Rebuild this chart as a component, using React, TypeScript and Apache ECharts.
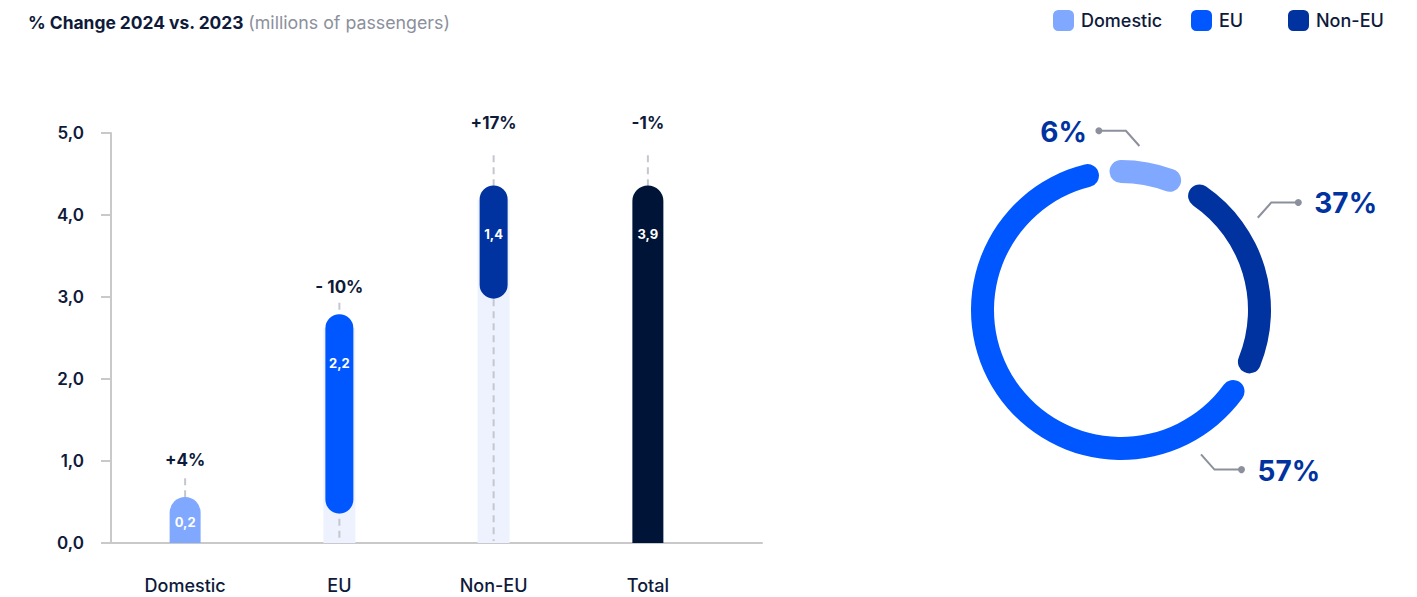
import React, { useEffect, useRef } from 'react';
import * as echarts from 'echarts';

// ---- Bar chart data ----
const CATEGORIES = ['Domestic', 'EU', 'Non-EU', 'Total'];
const BAR_START = [0, 0.36, 2.98, 0];
const BAR_END = [0.56, 2.79, 4.36, 4.36];
const VALUE_LABELS = ['0,2', '2,2', '1,4', '3,9'];
const CHANGE_LABELS = ['+4%', '- 10%', '+17%', '-1%'];
const CHANGE_LABEL_AT = [1.01, 3.12, 5.12, 5.12];
const GUIDE_TOP = [0.79, 2.93, 4.73, 4.73];
const Y_MIN = 0;
const Y_MAX = 5;
const Y_STEP = 1;

// ---- Donut data (arc shares as drawn, labels as printed) ----
const SEGMENTS = ['Domestic', 'Non-EU', 'EU'];
const SEGMENT_SHARE = [9.6, 25.4, 65.0];
const SEGMENT_LABELS = ['6%', '37%', '57%'];
const LEGEND_ITEMS = ['Domestic', 'EU', 'Non-EU'];

// ---- styles ----
const FONT = 'Inter, "Noto Sans", sans-serif';
const TEXT = '#0e1a3a';
const GREY = '#8b909c';
const AXIS = '#c9c9c9';
const TRACK = '#edf2fe';
const COLORS: Record<string, string> = {
  Domestic: '#80a8ff',
  EU: '#0057ff',
  'Non-EU': '#0033a0',
  Total: '#001438',
};
const BAR_WIDTH = [31, 28, 28, 31];
const TRACK_WIDTH = 32;
const DONUT_CX = 1121;
const DONUT_CY = 310;
const CALLOUT_ANGLE = [6.4, 56, 151];
const CALLOUT_SIDE = [-1, 1, 1];
const CALLOUT_R = 165;

const fmt = (v: number) => v.toFixed(1).replace('.', ',');

export default function App() {
  const ref = useRef<HTMLDivElement>(null);

  useEffect(() => {
    if (!ref.current) return;
    const chart = echarts.init(ref.current, undefined, { renderer: 'svg' });

    const callouts: any[] = [];
    SEGMENT_LABELS.forEach((t, i) => {
      const a = (CALLOUT_ANGLE[i] * Math.PI) / 180;
      const side = CALLOUT_SIDE[i];
      const sx = DONUT_CX + CALLOUT_R * Math.sin(a);
      const sy = DONUT_CY - CALLOUT_R * Math.cos(a);
      const vy = Math.cos(a) > 0 ? -1 : 1;
      const ex = sx + side * 13.5;
      const ey = sy + vy * 15.3;
      const dx = ex + side * 27;
      callouts.push(
        {
          type: 'polyline',
          silent: true,
          shape: { points: [[sx, sy], [ex, ey], [dx, ey]] },
          style: { stroke: GREY, lineWidth: 2, fill: null },
        },
        { type: 'circle', silent: true, shape: { cx: dx, cy: ey, r: 3.5 }, style: { fill: GREY } },
        {
          type: 'text',
          silent: true,
          x: dx + side * (side < 0 ? 12 : 16),
          y: ey + 1,
          style: {
            text: t,
            align: side < 0 ? 'right' : 'left',
            verticalAlign: 'middle',
            fill: '#0033a0',
            font: `700 28px ${FONT}`,
          },
        }
      );
    });

    const legendLefts = [1053, 1191, 1288];

    const option: any = {
      animation: false,
      textStyle: { fontFamily: FONT },
      title: {
        left: 28,
        top: 13,
        padding: 0,
        text: '{a|% Change 2024 vs. 2023} {b|(millions of passengers)}',
        textStyle: {
          rich: {
            a: { fontFamily: FONT, fontSize: 17.4, fontWeight: 700, color: TEXT },
            b: { fontFamily: FONT, fontSize: 17.8, fontWeight: 400, color: GREY },
          },
        },
      },
      legend: LEGEND_ITEMS.map((n, i) => ({
        data: [n],
        left: legendLefts[i],
        top: 10,
        padding: 0,
        icon: 'roundRect',
        itemWidth: 21,
        itemHeight: 21,
        selectedMode: false,
        textStyle: { fontFamily: FONT, fontSize: 18, fontWeight: 500, color: TEXT, padding: [0, 0, 0, 2] },
      })),
      grid: [
        { left: 108, width: 617, top: 133, bottom: 54 },
        { left: 111, right: 655, top: 133, bottom: 54 },
      ],
      xAxis: [
        {
          type: 'category',
          gridIndex: 0,
          data: CATEGORIES,
          axisLine: { show: false },
          axisTick: { show: false },
          axisLabel: { margin: 33, fontFamily: FONT, fontSize: 18, fontWeight: 500, color: TEXT },
        },
        {
          type: 'category',
          gridIndex: 1,
          data: [''],
          axisLine: { show: true, lineStyle: { color: AXIS, width: 2 } },
          axisTick: { show: false },
          axisLabel: { show: false },
        },
      ],
      yAxis: [
        { type: 'value', gridIndex: 0, min: Y_MIN, max: Y_MAX, interval: Y_STEP, show: false },
        {
          type: 'value',
          gridIndex: 1,
          min: Y_MIN,
          max: Y_MAX,
          interval: Y_STEP,
          axisLine: { show: true, lineStyle: { color: AXIS, width: 2 } },
          axisTick: { show: true, length: 10, lineStyle: { color: AXIS, width: 2 } },
          splitLine: { show: false },
          axisLabel: {
            margin: 27,
            formatter: (v: number) => fmt(v),
            fontFamily: FONT,
            fontSize: 17,
            fontWeight: 600,
            color: TEXT,
          },
        },
      ],
      series: [
        {
          type: 'custom',
          name: 'passengers',
          xAxisIndex: 0,
          yAxisIndex: 0,
          clip: false,
          silent: true,
          encode: { x: 0, y: [1, 2] },
          data: CATEGORIES.map((c, i) => [i, BAR_START[i], BAR_END[i], GUIDE_TOP[i], CHANGE_LABEL_AT[i]]),
          renderItem: (params: any, api: any) => {
            const i = api.value(0);
            const start = api.value(1);
            const end = api.value(2);
            const guide = api.value(3);
            const labelAt = api.value(4);
            const w = BAR_WIDTH[i];
            const r = w / 2;
            const [cx, yTop] = api.coord([i, end]);
            const yBot = api.coord([i, start])[1];
            const y0 = api.coord([i, 0])[1];
            const yGuide = api.coord([i, guide])[1];
            const yLabel = api.coord([i, labelAt])[1];
            const children: any[] = [];
            if (start > 0) {
              children.push({
                type: 'rect',
                shape: { x: cx - TRACK_WIDTH / 2, y: yTop + r, width: TRACK_WIDTH, height: y0 - yTop - r },
                style: { fill: TRACK },
              });
            }
            children.push({
              type: 'line',
              shape: { x1: cx, y1: yGuide, x2: cx, y2: y0 - 2 },
              style: { stroke: '#c4c7ce', lineWidth: 2, lineDash: [7, 5] },
            });
            children.push({
              type: 'rect',
              shape: {
                x: cx - r,
                y: yTop,
                width: w,
                height: yBot - yTop,
                r: start > 0 ? r : [r, r, 0, 0],
              },
              style: { fill: COLORS[CATEGORIES[i]] },
            });
            const yIn = Math.min(yTop + 49, (yTop + yBot) / 2 + 2);
            children.push({
              type: 'text',
              style: {
                text: VALUE_LABELS[i],
                x: cx,
                y: yIn,
                align: 'center',
                verticalAlign: 'middle',
                fill: '#ffffff',
                font: `700 13px ${FONT}`,
              },
            });
            children.push({
              type: 'text',
              style: {
                text: CHANGE_LABELS[i],
                x: cx,
                y: yLabel,
                align: 'center',
                verticalAlign: 'middle',
                fill: TEXT,
                font: `700 17px ${FONT}`,
              },
            });
            return { type: 'group', children };
          },
        },
        {
          type: 'pie',
          name: 'share',
          center: [DONUT_CX, DONUT_CY],
          radius: [127, 150],
          startAngle: 97,
          clockwise: true,
          padAngle: 4.5,
          silent: true,
          avoidLabelOverlap: false,
          itemStyle: { borderRadius: 12 },
          label: { show: false },
          labelLine: { show: false },
          emphasis: { disabled: true },
          data: SEGMENTS.map((n, i) => ({ name: n, value: SEGMENT_SHARE[i], itemStyle: { color: COLORS[n] } })),
        },
      ],
      graphic: callouts,
    };

    chart.setOption(option);
    return () => chart.dispose();
  }, []);

  return (
    <div
      ref={ref}
      style={{ position: 'absolute', left: 0, top: 0, width: 1417, height: 597, background: '#ffffff' }}
    />
  );
}
